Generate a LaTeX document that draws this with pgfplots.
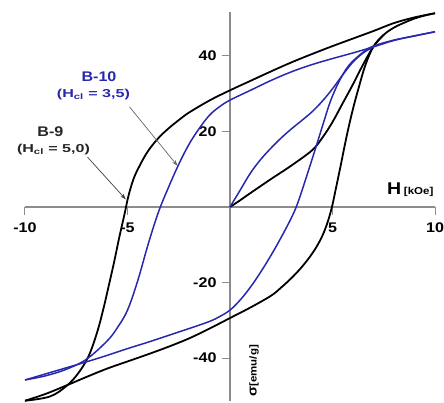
\documentclass[border=0pt]{standalone}
\usepackage{pgfplots}
\pgfplotsset{compat=1.18}
\usepackage{fontspec}
\setmainfont{Liberation Sans}[FakeStretch=1.15]
\newfontfamily\widefont{Liberation Sans}[FakeStretch=1.4]
\usetikzlibrary{arrows.meta}
\definecolor{bluec}{RGB}{40,40,175}
\definecolor{axgray}{RGB}{140,140,140}
\begin{document}
\begin{tikzpicture}
\begin{axis}[
  scale only axis, width=410pt, height=389pt,
  xmin=-10, xmax=10, ymin=-51.5, ymax=51.5,
  axis lines=middle,
  axis line style={axgray, line width=1.2pt, -},
  xtick={-10,-5,5,10}, ytick={-40,-20,20,40},
  tick style={axgray, line width=1pt},
  major tick length=8pt,
  tick align=outside,
  /pgf/number format/assume math mode=true,
  xticklabel style={font=\fontsize{14}{14}\selectfont\bfseries, yshift=-4pt},
  yticklabel style={font=\fontsize{14}{14}\selectfont\bfseries, xshift=-2pt},
  clip=false,
]
% ---- B-9 (black) ----
\addplot[black, line width=1.8pt, smooth, tension=0.6] table {
10 51.3
9 50.2
8 48.7
7 46.6
6 44.6
5 42.6
4 40.5
3 38.3
2 35.9
1 33.4
0 30.9
-1 28.2
-2 25
-2.5 23
-3 20.8
-3.5 18.2
-4 14.8
-4.4 11
-4.7 7.5
-4.95 3
-5.15 -2
-5.4 -8
-5.65 -14.5
-5.9 -20.5
-6.2 -27.5
-6.5 -33.5
-6.9 -39.5
-7.4 -44
-8 -47.5
-8.8 -50.2
-10 -51.3
};
\addplot[black, line width=1.8pt, smooth, tension=0.6] table {
-10 -51.3
-9 -49.5
-8 -47.3
-7 -45
-6 -42.8
-5 -40.9
-4 -39
-3 -37
-2 -34.8
-1 -32.2
0 -29.4
1 -26.6
2 -23.5
2.5 -21.3
3 -18.8
3.5 -15.9
4 -12.4
4.4 -8.8
4.7 -5
4.95 -0.5
5.15 4.5
5.4 11
5.7 19
6.0 26
6.3 32
6.6 37.5
7 42.5
7.5 45.6
8 47.5
8.5 48.8
9 49.9
9.5 50.7
10 51.3
};
\addplot[black, line width=1.8pt, smooth, tension=0.6] table {
0 0
0.5 1.8
1 3.7
2 7.4
3 11
4 15
4.5 18.3
5 22.5
5.5 27.5
6 32.5
6.5 37.8
7 42.5
7.5 45.6
};
% ---- B-10 (blue) ----
\addplot[bluec, line width=1.5pt, smooth, tension=0.6] table {
10 46.4
9 45.3
8 44.1
7 42.4
6 40.8
5 39.3
4 37.7
3 35.8
2 33.5
1 30.9
0 28.3
-0.5 26.6
-1 24.3
-1.5 20.8
-2 16.6
-2.5 11.3
-3 5.2
-3.5 -1.5
-4 -10
-4.5 -19.5
-5 -27.3
-5.5 -32
-6 -35.5
-7 -40.3
-8 -43
-9 -44.7
-10 -45.8
};
\addplot[bluec, line width=1.5pt, smooth, tension=0.6] table {
-10 -45.8
-9 -44.2
-8 -42.6
-7 -41
-6 -39.3
-5 -37.5
-4 -35.8
-3 -34
-2 -32.2
-1 -30.3
-0.5 -29
0 -27.3
0.5 -24.6
1 -21.2
1.5 -17.2
2 -12.8
2.5 -8
3 -2.8
3.3 1
3.7 7.5
4.2 16
4.6 23
4.9 28
5.3 33
5.8 37.5
6.5 41
7 42.6
8 44.2
9 45.3
10 46.4
};
\addplot[bluec, line width=1.5pt, smooth, tension=0.6] table {
0 0
0.5 4.5
1 9
1.5 12.6
2 15.6
2.5 18.3
3 20.7
3.5 22.9
4 25.2
4.5 28
5 31.3
5.5 35
6 38.4
6.5 40.8
7 42.4
};
% ---- annotations ----
\node[bluec, font=\fontsize{14}{14}\selectfont\bfseries] at (axis cs:-6.39,34.4) {B-10};
\node[bluec, font=\widefont\fontsize{11.5}{11.5}\selectfont\bfseries] at (axis cs:-6.66,29.7) {(H\textsubscript{cl} = 3,5)};
\node[black!85, font=\fontsize{14}{14}\selectfont\bfseries] at (axis cs:-8.76,19.9) {B-9};
\node[black!85, font=\widefont\fontsize{11.5}{11.5}\selectfont\bfseries] at (axis cs:-8.61,15.1) {(H\textsubscript{cl} = 5,0)};
\draw[-{Stealth[length=6pt,width=4pt]}, black!60, line width=0.7pt] (axis cs:-4.9,26.5) -- (axis cs:-2.56,10.9);
\draw[-{Stealth[length=6pt,width=4pt]}, black!75, line width=0.7pt] (axis cs:-6.95,13.2) -- (axis cs:-5.08,2.0);
\node[anchor=base west, inner sep=0pt, font=\bfseries] at (axis cs:7.65,3.2) {\fontsize{17}{17}\selectfont H\,\fontsize{10}{10}\selectfont[kOe]};
\node[anchor=base west, inner sep=0pt, rotate=90, font=\bfseries] at (axis cs:1.3,-50.3) {\fontsize{13}{13}\selectfont σ\fontsize{10}{10}\selectfont[emu/g]};
\coordinate (bl) at (rel axis cs:0,0);
\coordinate (tr) at (rel axis cs:1,1);
\end{axis}
\pgfresetboundingbox
\path[use as bounding box] ([xshift=-25pt,yshift=-1.5pt]bl) rectangle ([xshift=9pt,yshift=12.5pt]tr);
\end{tikzpicture}
\end{document}
